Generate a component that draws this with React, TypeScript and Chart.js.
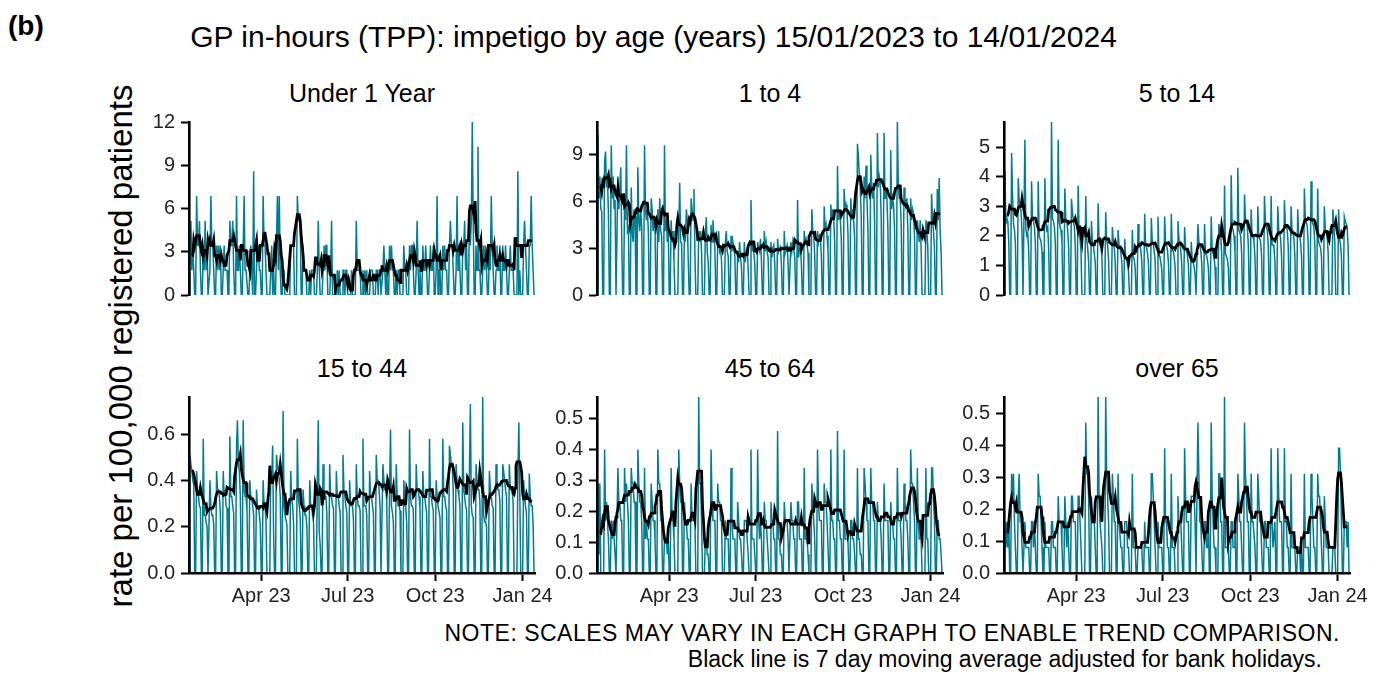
import React, { useEffect, useRef } from "react";
import { Chart, registerables } from "chart.js";

Chart.register(...registerables);

// ---------- data ----------
const panelTitles = ["Under 1 Year", "1 to 4", "5 to 14", "15 to 44", "45 to 64", "over 65"];
// day index 0 = 15/01/2023 (Sunday) ... 364 = 14/01/2024
const tickDays = [76, 167, 259, 351];
const tickLabels = ["Apr 23", "Jul 23", "Oct 23", "Jan 24"];
const bankHolidayDays = [82, 85, 106, 113, 134, 225, 344, 345, 351];
const yMaxima = [12, 11.1, 5.85, 0.76, 0.57, 0.55];
const yStepSizes = [3, 3, 1, 0.2, 0.1, 0.1];
const yDecimals = [0, 0, 0, 1, 1, 1];

const under1 = [
  0, 1.72, 5.15, 1.72, 3.43, 1.72, 0,
  0, 6.86, 3.43, 3.43, 5.15, 1.72, 0,
  0, 3.43, 1.72, 5.15, 1.72, 3.43, 0,
  0, 1.72, 6.86, 3.43, 3.43, 1.72, 0,
  0, 3.43, 1.72, 3.43, 1.72, 3.43, 0,
  0, 1.72, 3.43, 1.72, 1.72, 1.72, 0,
  0, 5.15, 3.43, 3.43, 5.15, 1.72, 0,
  0, 6.86, 1.72, 1.72, 3.43, 1.72, 0,
  0, 3.43, 6.86, 1.72, 1.72, 1.72, 0,
  0, 1.72, 3.43, 1.72, 0, 8.58, 0,
  0, 1.72, 3.43, 3.43, 1.72, 1.72, 0,
  0, 6.86, 3.43, 3.43, 3.43, 0, 0,
  0, 0, 1.72, 3.43, 0, 1.72, 0,
  0, 3.43, 6.86, 1.72, 6.86, 1.72, 0,
  0, 1.72, 1.72, 0, 0, 0, 0,
  0, 0, 3.43, 3.43, 3.43, 3.43, 0,
  0, 0, 6.86, 5.15, 5.15, 5.15, 0,
  0, 3.43, 1.72, 1.72, 1.72, 0, 0,
  0, 1.72, 0, 1.72, 1.72, 1.72, 0,
  0, 0, 1.72, 5.15, 1.72, 0, 0,
  0, 1.72, 3.43, 1.72, 3.43, 3.43, 0,
  0, 0, 1.72, 5.15, 0, 0, 0,
  0, 0, 1.72, 0, 1.72, 0, 0,
  0, 1.72, 1.72, 0, 1.72, 1.72, 0,
  0, 0, 0, 1.72, 0, 0, 0,
  0, 5.15, 1.72, 1.72, 1.72, 1.72, 0,
  0, 1.72, 0, 1.72, 0, 1.72, 0,
  0, 0, 1.72, 1.72, 1.72, 0, 0,
  0, 1.72, 1.72, 0, 1.72, 1.72, 0,
  0, 1.72, 3.43, 1.72, 0, 1.72, 0,
  0, 3.43, 1.72, 3.43, 1.72, 1.72, 0,
  0, 1.72, 0, 1.72, 1.72, 0, 0,
  0, 0, 3.43, 1.72, 1.72, 0, 0,
  0, 3.43, 1.72, 3.43, 3.43, 1.72, 0,
  0, 1.72, 5.15, 1.72, 0, 1.72, 0,
  0, 3.43, 1.72, 1.72, 3.43, 1.72, 0,
  0, 1.72, 3.43, 1.72, 1.72, 3.43, 0,
  0, 1.72, 6.86, 0, 1.72, 1.72, 0,
  0, 3.43, 1.72, 3.43, 1.72, 1.72, 0,
  0, 3.43, 5.15, 3.43, 3.43, 1.72, 0,
  0, 1.72, 6.86, 1.72, 3.43, 1.72, 0,
  0, 3.43, 3.43, 5.15, 1.72, 3.43, 0,
  0, 5.15, 3.43, 5.15, 12, 5.15, 0,
  0, 3.43, 1.72, 10.29, 1.72, 1.72, 0,
  0, 1.72, 3.43, 1.72, 3.43, 1.72, 0,
  0, 3.43, 1.72, 6.86, 3.43, 1.72, 0,
  0, 1.72, 3.43, 1.72, 1.72, 3.43, 0,
  0, 3.43, 1.72, 1.72, 3.43, 1.72, 0,
  0, 1.72, 3.43, 1.72, 1.72, 1.72, 0,
  0, 0, 0, 8.58, 0, 1.72, 0,
  0, 0, 3.43, 5.15, 3.43, 1.72, 0,
  0, 3.43, 3.43, 6.86, 3.43, 1.72, 0,
  0,
];

const age1to4 = [
  0, 10.3, 6.2, 7.6, 5.5, 5.4, 0,
  0, 8.6, 9.2, 6.9, 7.6, 5.2, 0,
  0, 9.6, 6.2, 7.6, 5.5, 6.1, 0,
  0, 7.6, 5.5, 6.9, 8.2, 3.8, 0,
  0, 6.2, 4.8, 9.6, 4.1, 4.3, 0,
  0, 6.9, 4.1, 3.4, 5.5, 5.1, 0,
  0, 8.2, 4.8, 4.1, 5.5, 4.4, 0,
  0, 9.6, 5.5, 4.8, 5.5, 4.1, 0,
  0, 6.2, 5.5, 4.1, 4.8, 4.4, 0,
  0, 5.5, 3.4, 6.2, 4.1, 3.8, 0,
  0, 9.6, 4.1, 4.8, 3.4, 4.1, 0,
  0, 4.8, 3.4, 4.1, 2.1, 0, 0,
  0, 0, 4.1, 7.2, 3.4, 3.3, 0,
  0, 4.1, 3.4, 5.5, 4.8, 2.2, 0,
  0, 6.2, 5.5, 4.8, 6.8, 2.7, 0,
  0, 0, 4.1, 3.4, 4.1, 2.8, 0,
  0, 0, 4.1, 5.0, 2.8, 2.1, 0,
  0, 4.5, 3.4, 4.8, 3.8, 3.0, 0,
  0, 3.4, 4.1, 2.8, 3.0, 2.2, 0,
  0, 0, 3.4, 4.1, 2.8, 2.5, 0,
  0, 3.8, 2.8, 3.4, 3.0, 2.5, 0,
  0, 2.8, 2.1, 3.4, 2.4, 1.8, 0,
  0, 3.4, 2.1, 2.8, 3.0, 1.7, 0,
  0, 6.1, 2.8, 3.4, 2.7, 2.0, 0,
  0, 3.4, 3.0, 2.8, 3.6, 2.2, 0,
  0, 4.1, 2.8, 3.4, 2.8, 2.4, 0,
  0, 3.4, 2.4, 3.0, 3.2, 2.0, 0,
  0, 3.6, 2.8, 3.0, 3.1, 2.0, 0,
  0, 4.1, 2.7, 3.0, 3.2, 2.0, 0,
  0, 3.4, 2.8, 3.4, 2.9, 2.5, 0,
  0, 6.1, 2.4, 3.0, 3.0, 2.0, 0,
  0, 4.1, 3.4, 3.6, 3.2, 2.7, 0,
  0, 0, 5.5, 4.1, 3.8, 2.6, 0,
  0, 4.1, 3.4, 3.8, 3.6, 2.6, 0,
  0, 5.7, 4.1, 4.5, 3.8, 2.9, 0,
  0, 5.8, 4.8, 5.5, 4.9, 3.5, 0,
  0, 8.3, 4.8, 5.5, 4.8, 3.6, 0,
  0, 6.8, 5.5, 5.8, 5.4, 4.0, 0,
  0, 6.2, 4.8, 5.5, 4.8, 3.7, 0,
  0, 9.7, 8.9, 7.6, 6.8, 5.0, 0,
  0, 7.6, 6.2, 8.3, 6.2, 4.2, 0,
  0, 9.0, 6.9, 6.2, 7.2, 4.7, 0,
  0, 10.4, 6.9, 7.6, 7.2, 4.9, 0,
  0, 10.4, 6.2, 6.9, 6.2, 4.3, 0,
  0, 9.3, 5.5, 6.2, 5.8, 4.2, 0,
  0, 11.1, 6.9, 6.2, 6.2, 4.6, 0,
  0, 6.9, 6.2, 5.5, 6.2, 4.2, 0,
  0, 6.2, 4.8, 5.5, 5.2, 3.8, 0,
  0, 4.8, 4.1, 3.4, 4.8, 2.9, 0,
  0, 0, 0, 4.8, 4.1, 3.1, 0,
  0, 0, 6.5, 4.8, 4.1, 3.0, 0,
  0, 6.8, 4.8, 7.5, 4.1, 2.8, 0,
  0,
];

const age5to14 = [
  0, 4.2, 2.4, 2.6, 2.5, 1.8, 0,
  0, 4.8, 3.35, 2.4, 2.2, 1.75, 0,
  0, 3.95, 3.2, 3.0, 2.8, 2.05, 0,
  0, 5.25, 2.2, 2.0, 2.1, 1.45, 0,
  0, 3.85, 2.6, 2.5, 2.3, 1.75, 0,
  0, 3.85, 2.0, 1.9, 1.8, 1.45, 0,
  0, 3.95, 2.5, 2.2, 2.3, 1.55, 0,
  0, 5.85, 2.6, 2.5, 2.3, 1.75, 0,
  0, 5.25, 2.5, 2.3, 2.2, 1.75, 0,
  0, 3.6, 2.6, 2.5, 2.2, 1.6, 0,
  0, 3.25, 2.8, 2.5, 2.3, 1.65, 0,
  0, 3.7, 2.1, 1.9, 1.5, 0, 0,
  0, 0, 3.35, 1.9, 1.6, 1.15, 0,
  0, 2.5, 1.8, 1.7, 1.4, 1.1, 0,
  0, 3.1, 1.8, 1.7, 1.6, 1.3, 0,
  0, 0, 2.8, 1.9, 1.7, 1.2, 0,
  0, 0, 2.3, 1.8, 1.6, 1.1, 0,
  0, 2.2, 1.7, 1.6, 1.4, 1.1, 0,
  0, 1.9, 1.3, 1.25, 1.0, 0.8, 0,
  0, 0, 2.2, 1.3, 1.2, 0.9, 0,
  0, 2.4, 1.8, 1.7, 1.5, 1.1, 0,
  0, 2.75, 1.7, 1.6, 1.4, 1.05, 0,
  0, 2.6, 1.8, 1.7, 1.5, 1.15, 0,
  0, 2.65, 1.35, 1.3, 1.1, 0.85, 0,
  0, 2.65, 1.8, 1.7, 1.5, 1.1, 0,
  0, 2.75, 1.5, 1.5, 1.3, 0.95, 0,
  0, 2.5, 1.9, 1.8, 1.5, 1.05, 0,
  0, 2.3, 1.6, 1.5, 1.35, 1.0, 0,
  0, 1.8, 1.2, 1.1, 0.95, 0.7, 0,
  0, 2.4, 1.8, 1.7, 1.5, 1.1, 0,
  0, 2.4, 1.4, 1.35, 1.2, 0.9, 0,
  0, 2.65, 1.5, 1.4, 1.25, 0.95, 0,
  0, 0, 2.4, 2.2, 2.0, 1.4, 0,
  0, 3.7, 1.4, 1.3, 1.2, 0.9, 0,
  0, 4.05, 2.3, 2.2, 2.0, 1.45, 0,
  0, 4.3, 2.2, 2.1, 2.0, 1.4, 0,
  0, 3.4, 2.6, 2.5, 2.3, 1.7, 0,
  0, 2.9, 2.0, 2.0, 1.8, 1.3, 0,
  0, 3.0, 2.0, 1.9, 1.8, 1.3, 0,
  0, 3.35, 2.5, 2.3, 2.2, 1.65, 0,
  0, 3.35, 1.7, 1.7, 1.6, 1.15, 0,
  0, 3.0, 2.2, 2.1, 1.9, 1.3, 0,
  0, 3.2, 2.4, 2.3, 2.2, 1.65, 0,
  0, 3.0, 2.2, 2.1, 1.9, 1.3, 0,
  0, 2.9, 2.0, 2.0, 1.8, 1.3, 0,
  0, 3.6, 2.6, 2.5, 2.3, 1.75, 0,
  0, 3.85, 2.5, 2.4, 2.3, 1.7, 0,
  0, 3.6, 1.8, 1.7, 1.6, 1.3, 0,
  0, 3.0, 2.2, 2.1, 2.0, 1.45, 0,
  0, 0, 0, 2.9, 2.35, 1.8, 0,
  0, 0, 2.9, 1.9, 1.7, 1.3, 0,
  0, 2.65, 2.5, 2.4, 2.3, 1.65, 0,
  0,
];

const age15to44 = [
  0, 0.51, 0.47, 0.44, 0.40, 0.38, 0,
  0, 0.44, 0.36, 0.33, 0.29, 0.28, 0,
  0, 0.58, 0.25, 0.25, 0.22, 0.20, 0,
  0, 0.40, 0.29, 0.25, 0.25, 0.21, 0,
  0, 0.44, 0.36, 0.36, 0.33, 0.26, 0,
  0, 0.44, 0.33, 0.36, 0.29, 0.28, 0,
  0, 0.59, 0.33, 0.33, 0.29, 0.26, 0,
  0, 0.55, 0.66, 0.47, 0.44, 0.33, 0,
  0, 0.66, 0.36, 0.33, 0.33, 0.27, 0,
  0, 0.40, 0.33, 0.33, 0.29, 0.25, 0,
  0, 0.36, 0.29, 0.29, 0.25, 0.21, 0,
  0, 0.40, 0.29, 0.29, 0.22, 0, 0,
  0, 0, 0.44, 0.40, 0.55, 0.17, 0,
  0, 0.51, 0.47, 0.44, 0.40, 0.33, 0,
  0, 0.70, 0.29, 0.25, 0.25, 0.21, 0,
  0, 0, 0.44, 0.33, 0.29, 0.22, 0,
  0, 0, 0.58, 0.33, 0.29, 0.24, 0,
  0, 0.36, 0.29, 0.25, 0.25, 0.20, 0,
  0, 0.40, 0.29, 0.29, 0.25, 0.22, 0,
  0, 0, 0.40, 0.66, 0.18, 0.12, 0,
  0, 0.47, 0.36, 0.33, 0.33, 0.26, 0,
  0, 0.47, 0.33, 0.33, 0.29, 0.28, 0,
  0, 0.44, 0.33, 0.33, 0.29, 0.26, 0,
  0, 0.51, 0.36, 0.33, 0.29, 0.26, 0,
  0, 0.40, 0.29, 0.29, 0.29, 0.23, 0,
  0, 0.47, 0.33, 0.29, 0.29, 0.27, 0,
  0, 0.58, 0.29, 0.29, 0.29, 0.25, 0,
  0, 0.44, 0.33, 0.33, 0.29, 0.26, 0,
  0, 0.51, 0.40, 0.40, 0.36, 0.28, 0,
  0, 0.47, 0.40, 0.36, 0.36, 0.31, 0,
  0, 0.36, 0.62, 0.29, 0.26, 0.22, 0,
  0, 0.47, 0.33, 0.29, 0.29, 0.27, 0,
  0, 0, 0.40, 0.29, 0.29, 0.22, 0,
  0, 0.62, 0.33, 0.29, 0.29, 0.27, 0,
  0, 0.47, 0.36, 0.36, 0.33, 0.28, 0,
  0, 0.44, 0.33, 0.33, 0.29, 0.26, 0,
  0, 0.58, 0.33, 0.33, 0.29, 0.27, 0,
  0, 0.40, 0.33, 0.29, 0.29, 0.24, 0,
  0, 0.58, 0.33, 0.33, 0.29, 0.27, 0,
  0, 0.55, 0.51, 0.47, 0.47, 0.35, 0,
  0, 0.47, 0.40, 0.36, 0.33, 0.29, 0,
  0, 0.65, 0.36, 0.33, 0.29, 0.27, 0,
  0, 0.44, 0.73, 0.29, 0.25, 0.24, 0,
  0, 0.47, 0.40, 0.36, 0.36, 0.31, 0,
  0, 0.76, 0.25, 0.22, 0.22, 0.20, 0,
  0, 0.44, 0.36, 0.33, 0.29, 0.28, 0,
  0, 0.47, 0.40, 0.36, 0.36, 0.31, 0,
  0, 0.47, 0.44, 0.40, 0.36, 0.33, 0,
  0, 0.47, 0.36, 0.36, 0.36, 0.30, 0,
  0, 0, 0, 0.44, 0.65, 0.35, 0,
  0, 0, 0.40, 0.33, 0.29, 0.26, 0,
  0, 0.43, 0.33, 0.29, 0.29, 0.21, 0,
  0,
];

const age45to64 = [
  0, 0.29, 0.06, 0.29, 0, 0, 0,
  0, 0.40, 0.17, 0.23, 0.17, 0.11, 0,
  0, 0.17, 0.11, 0.17, 0.11, 0.06, 0,
  0, 0.34, 0.23, 0.23, 0.17, 0.17, 0,
  0, 0.34, 0.23, 0.29, 0.23, 0.17, 0,
  0, 0.34, 0.29, 0.29, 0.23, 0.23, 0,
  0, 0.40, 0.29, 0.23, 0.23, 0.17, 0,
  0, 0.34, 0.11, 0.17, 0.11, 0.11, 0,
  0, 0.29, 0.23, 0.17, 0.17, 0.11, 0,
  0, 0.40, 0.29, 0.29, 0.17, 0.17, 0,
  0, 0.11, 0.11, 0.11, 0.06, 0.11, 0,
  0, 0.34, 0.17, 0.17, 0.11, 0, 0,
  0, 0, 0.40, 0.29, 0.23, 0.23, 0,
  0, 0.23, 0.17, 0.17, 0.11, 0.11, 0,
  0, 0.29, 0.17, 0.17, 0.17, 0.17, 0,
  0, 0, 0.57, 0.29, 0.29, 0.17, 0,
  0, 0, 0.11, 0.11, 0.06, 0.06, 0,
  0, 0.40, 0.23, 0.17, 0.17, 0.17, 0,
  0, 0.29, 0.23, 0.23, 0.17, 0.17, 0,
  0, 0, 0.17, 0.11, 0.11, 0.11, 0,
  0, 0.34, 0.17, 0.11, 0.11, 0.11, 0,
  0, 0.23, 0.17, 0.11, 0.11, 0.06, 0,
  0, 0.17, 0.17, 0.17, 0.11, 0.06, 0,
  0, 0.40, 0.11, 0.11, 0.11, 0.06, 0,
  0, 0.40, 0.17, 0.11, 0.17, 0.11, 0,
  0, 0.23, 0.17, 0.17, 0.11, 0.06, 0,
  0, 0.23, 0.17, 0.17, 0.11, 0.11, 0,
  0, 0.46, 0.11, 0.11, 0.06, 0.06, 0,
  0, 0.23, 0.17, 0.17, 0.17, 0.11, 0,
  0, 0.23, 0.17, 0.17, 0.11, 0.11, 0,
  0, 0.23, 0.23, 0.11, 0.11, 0.11, 0,
  0, 0.34, 0.11, 0.11, 0.11, 0.06, 0,
  0, 0, 0.29, 0.23, 0.17, 0.11, 0,
  0, 0.40, 0.23, 0.17, 0.17, 0.17, 0,
  0, 0.29, 0.23, 0.23, 0.17, 0.17, 0,
  0, 0.40, 0.17, 0.17, 0.11, 0.11, 0,
  0, 0.46, 0.17, 0.17, 0.11, 0.11, 0,
  0, 0.40, 0.11, 0.11, 0.11, 0.11, 0,
  0, 0.17, 0.17, 0.11, 0.11, 0.06, 0,
  0, 0.34, 0.11, 0.11, 0.06, 0.06, 0,
  0, 0.34, 0.29, 0.23, 0.17, 0.17, 0,
  0, 0.34, 0.23, 0.23, 0.17, 0.17, 0,
  0, 0.23, 0.17, 0.17, 0.17, 0.11, 0,
  0, 0.29, 0.17, 0.17, 0.17, 0.17, 0,
  0, 0.23, 0.17, 0.17, 0.11, 0.11, 0,
  0, 0.34, 0.17, 0.17, 0.17, 0.11, 0,
  0, 0.29, 0.23, 0.17, 0.17, 0.11, 0,
  0, 0.40, 0.29, 0.29, 0.23, 0.17, 0,
  0, 0.34, 0.17, 0.11, 0.11, 0.11, 0,
  0, 0, 0, 0.34, 0.11, 0.11, 0,
  0, 0, 0.34, 0.34, 0.23, 0.17, 0,
  0, 0.17, 0.17, 0.11, 0.11, 0.06, 0,
  0,
];

const over65 = [
  0, 0.16, 0.08, 0.16, 0.08, 0.16, 0,
  0, 0.31, 0.24, 0.31, 0.16, 0.08, 0,
  0, 0.24, 0.31, 0.16, 0.16, 0.08, 0,
  0, 0.16, 0.08, 0.08, 0.08, 0.08, 0,
  0, 0.16, 0.16, 0.08, 0.16, 0.08, 0,
  0, 0.31, 0.24, 0.24, 0.16, 0.08, 0,
  0, 0.16, 0.08, 0.08, 0.08, 0.08, 0,
  0, 0.16, 0.16, 0.08, 0.08, 0.08, 0,
  0, 0.24, 0.16, 0.16, 0.16, 0.08, 0,
  0, 0.24, 0.16, 0.08, 0.16, 0.08, 0,
  0, 0.24, 0.24, 0.16, 0.16, 0.16, 0,
  0, 0.24, 0.24, 0.16, 0.16, 0, 0,
  0, 0, 0.47, 0.31, 0.31, 0.24, 0,
  0, 0.24, 0.16, 0.16, 0.16, 0.08, 0,
  0, 0.55, 0.24, 0.16, 0.16, 0.08, 0,
  0, 0, 0.55, 0.31, 0.24, 0.16, 0,
  0, 0, 0.31, 0.24, 0.16, 0.16, 0,
  0, 0.31, 0.16, 0.16, 0.08, 0.08, 0,
  0, 0.16, 0.16, 0.16, 0.08, 0.08, 0,
  0, 0, 0.31, 0.08, 0.08, 0.08, 0,
  0, 0.08, 0.08, 0.08, 0.08, 0.08, 0,
  0, 0.16, 0.08, 0.08, 0.08, 0.08, 0,
  0, 0.31, 0.31, 0.24, 0.16, 0.08, 0,
  0, 0.16, 0.08, 0.08, 0.08, 0.08, 0,
  0, 0.39, 0.16, 0.16, 0.08, 0.08, 0,
  0, 0.31, 0.08, 0.08, 0.08, 0, 0,
  0, 0.24, 0.16, 0.16, 0.16, 0.08, 0,
  0, 0.39, 0.24, 0.16, 0.16, 0.16, 0,
  0, 0.24, 0.24, 0.24, 0.24, 0.16, 0,
  0, 0.47, 0.31, 0.16, 0.16, 0.08, 0,
  0, 0.16, 0.16, 0.08, 0.08, 0.16, 0,
  0, 0.47, 0.24, 0.16, 0.08, 0.08, 0,
  0, 0, 0.31, 0.31, 0.16, 0.16, 0,
  0, 0.55, 0.08, 0.08, 0.08, 0.08, 0,
  0, 0.16, 0.16, 0.08, 0.08, 0.16, 0,
  0, 0.31, 0.24, 0.16, 0.16, 0.08, 0,
  0, 0.47, 0.31, 0.24, 0.16, 0.16, 0,
  0, 0.31, 0.16, 0.16, 0.16, 0.08, 0,
  0, 0.31, 0.24, 0.16, 0.16, 0.08, 0,
  0, 0.16, 0.16, 0.08, 0.08, 0.08, 0,
  0, 0.39, 0.16, 0.08, 0.08, 0.16, 0,
  0, 0.39, 0.24, 0.16, 0.16, 0.16, 0,
  0, 0.39, 0.16, 0.16, 0.08, 0.08, 0,
  0, 0.31, 0.08, 0.08, 0.08, 0.08, 0,
  0, 0.08, 0.08, 0.08, 0, 0.08, 0,
  0, 0.31, 0.08, 0.08, 0.08, 0.08, 0,
  0, 0.31, 0.24, 0.16, 0.08, 0.08, 0,
  0, 0.31, 0.24, 0.24, 0.16, 0.08, 0,
  0, 0.24, 0.16, 0.08, 0.08, 0.08, 0,
  0, 0, 0, 0.08, 0.08, 0.08, 0,
  0, 0, 0.39, 0.39, 0.31, 0.16, 0,
  0, 0.16, 0.16, 0.16, 0.08, 0.16, 0,
  0,
];

const panelSeries = [under1, age1to4, age5to14, age15to44, age45to64, over65];

// ---------- helpers ----------
const TEAL = "#007d91";
const FONT = "'Liberation Sans', Arial, Helvetica, sans-serif";

function isWorkingDay(day: number) {
  const dow = day % 7; // 0 = Sunday
  return dow >= 1 && dow <= 5 && !bankHolidayDays.includes(day);
}

// centred 7 day moving average, divided by the number of working days in the window
function movingAverage(values: number[]) {
  const out: { x: number; y: number }[] = [];
  for (let i = 3; i <= values.length - 4; i++) {
    let sum = 0;
    let work = 0;
    for (let j = i - 3; j <= i + 3; j++) {
      sum += values[j];
      if (isWorkingDay(j)) work++;
    }
    out.push({ x: i, y: work ? sum / work : 0 });
  }
  return out;
}

// ---------- layout ----------
const PLOT_LEFTS = [189, 597, 1004];
const PLOT_TOPS = [118, 393];
const PLOT_HEIGHTS = [181, 180];
const PLOT_W = 346;
const Y_AXIS_W = 60;
const PAD_TOP = 14;
const PAD_RIGHT = 24;
const PAD_BOTTOM_TOP_ROW = 14;
const X_AXIS_H = 35;

function Panel({ idx }: { idx: number }) {
  const ref = useRef<HTMLCanvasElement | null>(null);
  const row = Math.floor(idx / 3);
  const col = idx % 3;
  const isBottom = row === 1;
  const W = Y_AXIS_W + PLOT_W + PAD_RIGHT;
  const H = PAD_TOP + PLOT_HEIGHTS[row] + (isBottom ? X_AXIS_H : PAD_BOTTOM_TOP_ROW);
  const left = PLOT_LEFTS[col] - Y_AXIS_W;
  const top = PLOT_TOPS[row] - PAD_TOP;

  useEffect(() => {
    const values = panelSeries[idx];
    const daily = values.map((v, i) => ({ x: i, y: v }));
    const ma = movingAverage(values);
    const tickGrid = {
      display: true,
      drawOnChartArea: false,
      drawTicks: true,
      tickLength: 8,
      tickColor: "#000",
      tickWidth: 2,
    };
    const axisBorder = { display: true, color: "#000", width: 2.6, z: 1 };
    const xScale: any = {
      type: "linear",
      min: 0,
      max: 364,
      display: isBottom,
      afterBuildTicks: (s: any) => {
        s.ticks = tickDays.map((v) => ({ value: v }));
      },
      ticks: {
        autoSkip: false,
        maxRotation: 0,
        padding: 3,
        color: "#222",
        font: { family: FONT, size: 20 },
        callback: (_v: any, i: number) => tickLabels[i],
      },
      grid: tickGrid,
      border: axisBorder,
    };
    if (isBottom) {
      xScale.afterFit = (s: any) => {
        s.height = X_AXIS_H;
      };
    }
    const chart = new Chart(ref.current as HTMLCanvasElement, {
      type: "line",
      data: {
        datasets: [
          {
            data: ma,
            borderColor: "#000",
            borderWidth: 2.8,
            pointRadius: 0,
            tension: 0,
            order: 0,
          },
          {
            data: daily,
            borderColor: TEAL,
            borderWidth: 1.5,
            pointRadius: 0,
            tension: 0,
            order: 1,
          },
        ],
      },
      options: {
        responsive: false,
        animation: false,
        events: [],
        plugins: {
          legend: { display: false },
          tooltip: { enabled: false },
          title: { display: false },
        },
        layout: {
          padding: {
            top: PAD_TOP,
            right: PAD_RIGHT,
            bottom: isBottom ? 0 : PAD_BOTTOM_TOP_ROW,
            left: 0,
          },
        },
        scales: {
          x: xScale,
          y: {
            min: 0,
            max: yMaxima[idx],
            afterFit: (s: any) => {
              s.width = Y_AXIS_W;
            },
            ticks: {
              stepSize: yStepSizes[idx],
              includeBounds: false,
              padding: 6,
              color: "#222",
              font: { family: FONT, size: 20 },
              callback: (v: any) => Number(v).toFixed(yDecimals[idx]),
            },
            grid: tickGrid,
            border: axisBorder,
          },
        },
      } as any,
    });
    return () => chart.destroy();
  }, [idx]);

  return (
    <canvas
      ref={ref}
      width={W}
      height={H}
      style={{ position: "absolute", left, top, width: W, height: H }}
    />
  );
}

function Text({
  children,
  style,
}: {
  children: React.ReactNode;
  style: React.CSSProperties;
}) {
  return (
    <div
      style={{
        position: "absolute",
        fontFamily: FONT,
        lineHeight: 1,
        whiteSpace: "nowrap",
        color: "#000",
        ...style,
      }}
    >
      {children}
    </div>
  );
}

export default function App() {
  return (
    <div
      style={{
        position: "absolute",
        left: 0,
        top: 0,
        width: 1381,
        height: 675,
        background: "#fff",
        overflow: "hidden",
      }}
    >
      <Text style={{ left: 8, top: 12, fontSize: 28, fontWeight: "bold" }}>(b)</Text>
      <Text style={{ left: 653.5, top: 22, fontSize: 30, transform: "translateX(-50%)" }}>
        GP in-hours (TPP): impetigo by age (years) 15/01/2023 to 14/01/2024
      </Text>
      <Text
        style={{
          left: 120,
          top: 346,
          fontSize: 33,
          transform: "translate(-50%, -50%) rotate(-90deg)",
        }}
      >
        rate per 100,000 registered patients
      </Text>
      {panelTitles.map((t, i) => {
        const row = Math.floor(i / 3);
        const col = i % 3;
        return (
          <Text
            key={t}
            style={{
              left: PLOT_LEFTS[col] + PLOT_W / 2,
              top: 81 + row * 275,
              fontSize: 25,
              transform: "translateX(-50%)",
            }}
          >
            {t}
          </Text>
        );
      })}
      {panelTitles.map((_, i) => (
        <Panel key={i} idx={i} />
      ))}
      <Text style={{ right: 1381 - 1340, top: 622, fontSize: 23, letterSpacing: 0.5 }}>
        NOTE: SCALES MAY VARY IN EACH GRAPH TO ENABLE TREND COMPARISON.
      </Text>
      <Text style={{ right: 1381 - 1322, top: 648, fontSize: 23 }}>
        Black line is 7 day moving average adjusted for bank holidays.
      </Text>
    </div>
  );
}
